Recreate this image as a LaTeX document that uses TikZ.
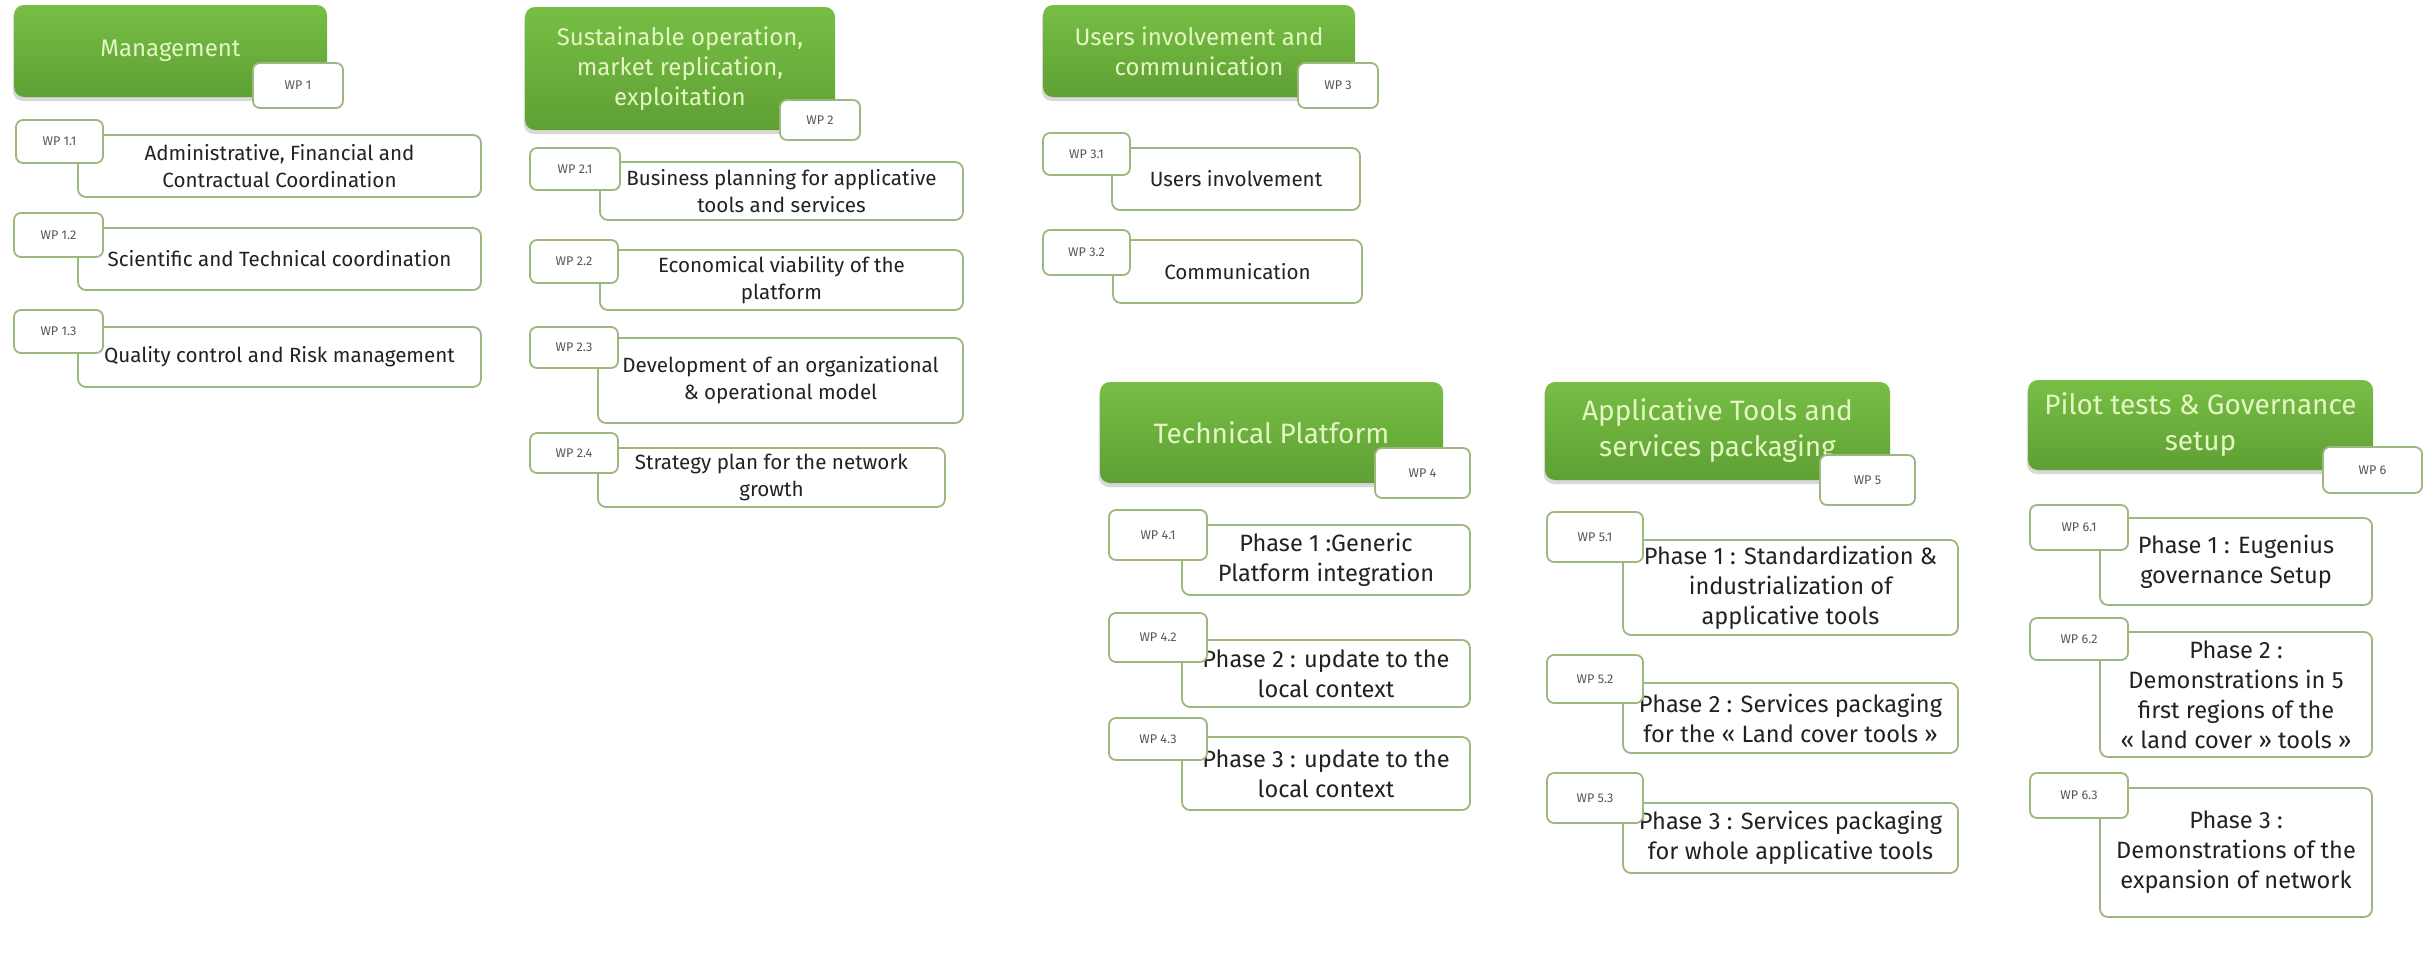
\documentclass[tikz,border=0pt]{standalone}
\usepackage{fontspec}
\setmainfont{Fira Sans}
\usetikzlibrary{shadows}
\definecolor{gtop}{HTML}{78BE45}
\definecolor{gbot}{HTML}{5EA034}
\definecolor{htext}{HTML}{E4F6C2}
\definecolor{bord}{HTML}{9CB87E}
\definecolor{itext}{HTML}{222222}
\definecolor{ttext}{HTML}{555555}
\tikzset{
  head/.style={rounded corners=5pt, top color=gtop, bottom color=gbot, draw=none,
    text=htext, align=center, inner sep=0,
    drop shadow={shadow xshift=-0.6pt, shadow yshift=-2pt, opacity=0.3}},
  headA/.style={head, font=\fontsize{12}{15}\selectfont},
  headB/.style={head, font=\fontsize{14}{18}\selectfont},
  wpitem/.style={draw=bord, line width=0.9pt, rounded corners=4pt, fill=white,
    text=itext, align=center, inner sep=0},
  itemA/.style={wpitem, font=\fontsize{10.3}{13.5}\selectfont},
  itemB/.style={wpitem, font=\fontsize{11.8}{15}\selectfont},
  wptag/.style={draw=bord, line width=0.9pt, rounded corners=3.5pt, fill=white,
    text=ttext, inner sep=0, font=\fontsize{6.3}{7}\selectfont},
}
\newcommand\wpnode[7]{\node[#1, minimum width={(#5-#3)*0.5pt}, minimum height={(#6-#4)*0.5pt}] (#2) at ({(#3+#5)/2},{(#4+#6)/2}) {#7};}
\begin{document}
\begin{tikzpicture}[x=0.5pt,y=-0.5pt]
\useasboundingbox[fill=white] (0,0) rectangle (2428,969);
% WP1
\wpnode{headA}{h1}{14}{5}{327}{97}{Management}
\wpnode{wptag}{t1}{253}{63}{343}{108}{WP 1}
\wpnode{itemA}{i11}{78}{135}{481}{197}{Administrative, Financial and\\Contractual Coordination}
\wpnode{wptag}{t11}{16}{120}{103}{163}{WP 1.1}
\wpnode{itemA}{i12}{78}{228}{481}{290}{Scientific and Technical coordination}
\wpnode{wptag}{t12}{14}{213}{103}{257}{WP 1.2}
\wpnode{itemA}{i13}{78}{327}{481}{387}{Quality control and Risk management}
\wpnode{wptag}{t13}{14}{310}{103}{353}{WP 1.3}
% WP2
\wpnode{headA}{h2}{525}{7}{835}{130}{Sustainable operation,\\market replication,\\exploitation}
\wpnode{wptag}{t2}{780}{100}{860}{140}{WP 2}
\wpnode{itemA}{i21}{600}{162}{963}{220}{Business planning for applicative\\tools and services}
\wpnode{wptag}{t21}{530}{148}{620}{190}{WP 2.1}
\wpnode{itemA}{i22}{600}{250}{963}{310}{Economical viability of the\\platform}
\wpnode{wptag}{t22}{530}{240}{618}{283}{WP 2.2}
\wpnode{itemA}{i23}{598}{338}{963}{423}{Development of an organizational\\\& operational model}
\wpnode{wptag}{t23}{530}{327}{618}{368}{WP 2.3}
\wpnode{itemA}{i24}{598}{448}{945}{507}{Strategy plan for the network\\growth}
\wpnode{wptag}{t24}{530}{433}{618}{473}{WP 2.4}
% WP3
\wpnode{headA}{h3}{1043}{5}{1355}{97}{Users involvement and\\communication}
\wpnode{wptag}{t3}{1298}{63}{1378}{108}{WP 3}
\wpnode{itemA}{i31}{1112}{148}{1360}{210}{Users involvement}
\wpnode{wptag}{t31}{1043}{133}{1130}{175}{WP 3.1}
\wpnode{itemA}{i32}{1113}{240}{1362}{303}{Communication}
\wpnode{wptag}{t32}{1043}{230}{1130}{275}{WP 3.2}
% WP4
\wpnode{headB}{h4}{1100}{382}{1443}{483}{Technical Platform}
\wpnode{wptag}{t4}{1375}{448}{1470}{498}{WP 4}
\wpnode{itemB}{i41}{1182}{525}{1470}{595}{Phase 1 :Generic\\Platform integration}
\wpnode{wptag}{t41}{1109}{510}{1207}{560}{WP 4.1}
\wpnode{itemB}{i42}{1182}{640}{1470}{707}{Phase 2 : update to the\\local context}
\wpnode{wptag}{t42}{1109}{613}{1207}{662}{WP 4.2}
\wpnode{itemB}{i43}{1182}{737}{1470}{810}{Phase 3 : update to the\\local context}
\wpnode{wptag}{t43}{1109}{718}{1207}{760}{WP 4.3}
% WP5
\wpnode{headB}{h5}{1545}{382}{1890}{480}{Applicative Tools and\\services packaging}
\wpnode{wptag}{t5}{1820}{455}{1915}{505}{WP 5}
\wpnode{itemB}{i51}{1623}{540}{1958}{635}{Phase 1 : Standardization \&\\industrialization of\\applicative tools}
\wpnode{wptag}{t51}{1547}{512}{1643}{562}{WP 5.1}
\wpnode{itemB}{i52}{1623}{683}{1958}{753}{Phase 2 : Services packaging\\for the « Land cover tools »}
\wpnode{wptag}{t52}{1547}{655}{1643}{703}{WP 5.2}
\wpnode{itemB}{i53}{1623}{803}{1958}{873}{Phase 3 : Services packaging\\for whole applicative tools}
\wpnode{wptag}{t53}{1547}{773}{1643}{823}{WP 5.3}
% WP6
\wpnode{headB}{h6}{2028}{380}{2373}{470}{Pilot tests \& Governance\\setup}
\wpnode{wptag}{t6}{2323}{447}{2422}{493}{WP 6}
\wpnode{itemB}{i61}{2100}{518}{2372}{605}{Phase 1 : Eugenius\\governance Setup}
\wpnode{wptag}{t61}{2030}{505}{2128}{550}{WP 6.1}
\wpnode{itemB}{i62}{2100}{632}{2372}{757}{Phase 2 :\\Demonstrations in 5\\first regions of the\\« land cover » tools »}
\wpnode{wptag}{t62}{2030}{618}{2128}{660}{WP 6.2}
\wpnode{itemB}{i63}{2100}{788}{2372}{917}{Phase 3 :\\Demonstrations of the\\expansion of network}
\wpnode{wptag}{t63}{2030}{773}{2128}{818}{WP 6.3}
\end{tikzpicture}
\end{document}
